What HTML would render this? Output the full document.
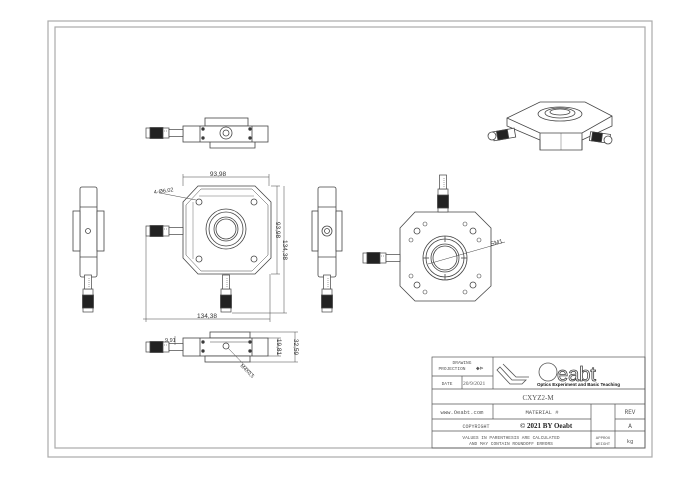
<!DOCTYPE html>
<html><head><meta charset="utf-8"><style>
html,body{margin:0;padding:0;background:#fff;width:700px;height:478px;overflow:hidden}
svg{display:block}
</style></head><body>
<svg width="700" height="478" viewBox="0 0 700 478" xmlns="http://www.w3.org/2000/svg" font-family="Liberation Sans, sans-serif" fill="#333">
<defs>
<g id="knobH">
<rect x="0" y="-5" width="5" height="10" fill="#fff" stroke="#444" stroke-width="0.7"/>
<rect x="4" y="-5.5" width="13" height="11" fill="#222"/>
<rect x="17" y="-5" width="6" height="10" fill="#fff" stroke="#444" stroke-width="0.7"/>
<line x1="18" y1="-2" x2="22" y2="-2" stroke="#444" stroke-width="0.5" stroke-dasharray="1,1"/>
<rect x="23" y="-3.5" width="14" height="7" fill="#fff" stroke="#444" stroke-width="0.7"/>
</g>
<g id="knobV">
<rect x="-5" y="-5" width="10" height="5" fill="#fff" stroke="#444" stroke-width="0.7"/>
<rect x="-5.5" y="-17" width="11" height="13" fill="#222"/>
<rect x="-5" y="-23" width="10" height="6" fill="#fff" stroke="#444" stroke-width="0.7"/>
<rect x="-3.5" y="-37" width="7" height="14" fill="#fff" stroke="#444" stroke-width="0.7"/>
<line x1="1" y1="-34" x2="1" y2="-25" stroke="#444" stroke-width="0.5" stroke-dasharray="1,1"/>
</g>
</defs>
<g fill="none" stroke="#aaa" stroke-width="1.2">
<rect x="48" y="21" width="604" height="436"/>
<rect x="55" y="27" width="590" height="421"/>
</g>

<g stroke="#444" stroke-width="0.8" fill="none">
<rect x="205" y="118" width="43" height="8" fill="#fff"/>
<rect x="183" y="126" width="85" height="16" fill="#fff"/>
<line x1="200" y1="126" x2="200" y2="142"/><line x1="252" y1="126" x2="252" y2="142"/>
<path d="M210 142 V148 H255 V142"/>
<circle cx="226" cy="133" r="6"/><circle cx="226" cy="133" r="3"/>
<circle cx="203" cy="129" r="1.3" fill="#333"/><circle cx="203" cy="138" r="1.3" fill="#333"/>
<circle cx="250" cy="129" r="1.3" fill="#333"/><circle cx="250" cy="138" r="1.3" fill="#333"/>
<use href="#knobH" x="146" y="133"/>

<path d="M198 186 H255 L271 202 V258 L255 274 H198 L183 258 V202 Z" fill="#fff"/>
<path d="M201 189 H252 L268 205 V255 L252 271 H201 L186 255 V205 Z" stroke-width="0.5"/>
<circle cx="226" cy="229" r="20"/><circle cx="226" cy="229" r="17"/>
<circle cx="226" cy="229" r="12"/><circle cx="226" cy="229" r="10"/>
<circle cx="199" cy="202" r="3"/><circle cx="254" cy="202" r="3"/>
<circle cx="199" cy="259" r="3"/><circle cx="254" cy="259" r="3"/>
<line x1="199" y1="196" x2="254" y2="196" stroke-width="0.4"/>
<line x1="193" y1="202" x2="193" y2="259" stroke-width="0.4"/>
<use href="#knobH" x="146" y="231"/>
<use href="#knobV" x="226" y="312"/>
<g stroke-width="0.5">
<line x1="183" y1="177" x2="269" y2="177"/><line x1="183" y1="174" x2="183" y2="186"/><line x1="269" y1="174" x2="269" y2="186"/>
<line x1="277" y1="186" x2="277" y2="274"/><line x1="271" y1="186" x2="280" y2="186"/><line x1="271" y1="274" x2="280" y2="274"/>
<line x1="284" y1="186" x2="284" y2="313"/><line x1="232" y1="313" x2="287" y2="313"/>
<line x1="143" y1="319" x2="270" y2="319"/><line x1="146" y1="236" x2="146" y2="322"/><line x1="270" y1="274" x2="270" y2="322"/>
<line x1="160" y1="193" x2="196" y2="200"/>
</g>

<rect x="80" y="187" width="17" height="90" rx="2" fill="#fff"/>
<line x1="80" y1="207" x2="97" y2="207"/><line x1="80" y1="257" x2="97" y2="257"/>
<rect x="73" y="211" width="7" height="40" fill="#fff"/>
<rect x="97" y="211" width="7" height="40" fill="#fff"/>
<circle cx="88" cy="231" r="2.5"/>
<use href="#knobV" x="88" y="312"/>

<rect x="318" y="187" width="18" height="90" rx="2" fill="#fff"/>
<line x1="318" y1="207" x2="336" y2="207"/><line x1="318" y1="257" x2="336" y2="257"/>
<rect x="336" y="211" width="6" height="40" fill="#fff"/>
<rect x="312" y="211" width="6" height="40" fill="#fff"/>
<circle cx="327" cy="231" r="5"/><circle cx="327" cy="231" r="2.5"/>
<use href="#knobV" x="327" y="312"/>

<rect x="210" y="332" width="40" height="6" fill="#fff"/>
<rect x="183" y="338" width="85" height="18" fill="#fff"/>
<line x1="200" y1="338" x2="200" y2="356"/><line x1="252" y1="338" x2="252" y2="356"/>
<line x1="210" y1="342" x2="250" y2="342" stroke-width="0.5"/>
<rect x="205" y="356" width="45" height="6" fill="#fff"/>
<circle cx="226" cy="346" r="3"/>
<circle cx="203" cy="342" r="1.3" fill="#333"/><circle cx="203" cy="351" r="1.3" fill="#333"/>
<circle cx="250" cy="342" r="1.3" fill="#333"/><circle cx="250" cy="351" r="1.3" fill="#333"/>
<use href="#knobH" x="146" y="347"/>
<g stroke-width="0.5">
<line x1="228" y1="348" x2="254" y2="375"/>
<line x1="278" y1="338" x2="278" y2="356"/><line x1="268" y1="338" x2="281" y2="338"/><line x1="268" y1="356" x2="281" y2="356"/>
<line x1="295" y1="332" x2="295" y2="362"/><line x1="250" y1="332" x2="298" y2="332"/><line x1="250" y1="362" x2="298" y2="362"/>
<line x1="175" y1="336" x2="175" y2="345"/>
</g>

<path d="M415 212 H475 L491 228 V286 L475 301 H415 L400 286 V228 Z" fill="#fff"/>
<circle cx="445" cy="258" r="22"/><circle cx="445" cy="258" r="19"/>
<circle cx="445" cy="258" r="14"/><circle cx="445" cy="258" r="12"/>
<line x1="423" y1="258" x2="429" y2="258"/><line x1="461" y1="258" x2="467" y2="258"/>
<line x1="445" y1="236" x2="445" y2="242"/><line x1="445" y1="274" x2="445" y2="280"/>
<circle cx="417" cy="231" r="3"/><circle cx="473" cy="231" r="3"/><circle cx="417" cy="285" r="3"/><circle cx="473" cy="285" r="3"/>
<g stroke-width="0.6">
<circle cx="411" cy="240" r="2"/><circle cx="425" cy="224" r="2"/><circle cx="465" cy="224" r="2"/><circle cx="479" cy="240" r="2"/>
<circle cx="411" cy="276" r="2"/><circle cx="425" cy="292" r="2"/><circle cx="465" cy="292" r="2"/><circle cx="479" cy="276" r="2"/>
</g>
<line x1="428" y1="264" x2="505" y2="242" stroke-width="0.5"/>
<g transform="translate(443,212)"><use href="#knobV"/></g>
<use href="#knobH" x="363" y="258"/>

<path d="M507 118 L540 102 H585 L612 116 V126 L582 140 V150 H540 V140 L507 126 Z" fill="#fff"/>
<path d="M507 118 L540 133 H582 L612 116"/>
<line x1="540" y1="133" x2="540" y2="150"/><line x1="582" y1="133" x2="582" y2="150"/>
<line x1="561" y1="133" x2="561" y2="150" stroke-width="0.4"/>
<ellipse cx="560" cy="114" rx="22" ry="7" fill="#fff"/>
<ellipse cx="560" cy="113" rx="15" ry="5" fill="#fff"/>
<ellipse cx="560" cy="112" rx="10" ry="3"/>
<rect x="493" y="130" width="22" height="9" fill="#fff" transform="rotate(-10 504 134)"/>
<rect x="497" y="130" width="11" height="9" fill="#222" transform="rotate(-10 504 134)"/>
<circle cx="492" cy="136" r="4" fill="#fff"/>
<rect x="590" y="133" width="20" height="9" fill="#fff" transform="rotate(8 600 137)"/>
<rect x="592" y="133" width="10" height="9" fill="#222" transform="rotate(8 600 137)"/>
<circle cx="608" cy="140" r="4" fill="#fff"/>
</g>

<g font-size="6.5" fill="#333">
<text x="218" y="176" text-anchor="middle">93,98</text>
<text x="154" y="194" font-size="5.5" transform="rotate(-8 154 194)">4-Ø6,02</text>
<text x="276" y="230" transform="rotate(90 276 230)" text-anchor="middle">93,98</text>
<text x="283" y="250" transform="rotate(90 283 250)" text-anchor="middle">134,38</text>
<text x="207" y="318" text-anchor="middle">134,38</text>
<text x="165" y="342" font-size="5.5">9,91</text>
<text x="277" y="347" transform="rotate(90 277 347)" text-anchor="middle">19,81</text>
<text x="294" y="347" transform="rotate(90 294 347)" text-anchor="middle">32,59</text>
<text x="240" y="366" font-size="5" transform="rotate(45 240 366)">M4X0,5</text>
<text x="491" y="246" font-size="6" transform="rotate(-15 491 246)">SM1</text>
</g>

<g stroke="#555" stroke-width="0.7" fill="none">
<rect x="432" y="357" width="213" height="91"/>
<line x1="432" y1="376" x2="493" y2="376"/>
<line x1="432" y1="389" x2="645" y2="389"/>
<line x1="432" y1="404" x2="645" y2="404"/>
<line x1="432" y1="419" x2="591" y2="419"/><line x1="615" y1="419" x2="645" y2="419"/>
<line x1="432" y1="431" x2="645" y2="431"/>
<line x1="493" y1="357" x2="493" y2="389"/>
<line x1="462" y1="376" x2="462" y2="389"/>
<line x1="493" y1="404" x2="493" y2="419"/>
<line x1="591" y1="404" x2="591" y2="448"/>
<line x1="615" y1="404" x2="615" y2="448"/>
</g>
<g stroke="#555" stroke-width="0.8" fill="none">
<path d="M500 367 L512 380 H526 L522 384 H510 L497 370 Z"/>
<path d="M503 364 L516 377 H529"/>
<circle cx="548" cy="372" r="9"/>
</g>
<text x="557" y="381" font-size="20" fill="#fff" stroke="#444" stroke-width="0.8">eabt</text>
<text x="537" y="386" font-size="4.5" font-weight="bold" fill="#111">Optics Experiment and Basic Teaching</text>
<g font-family="Liberation Mono, monospace" font-size="4.5" fill="#555">
<text x="462" y="364" text-anchor="middle">DRAWING</text>
<text x="452" y="370" text-anchor="middle">PROJECTION</text>
<text x="476" y="370" font-size="6">◆⊳</text>
<text x="447" y="385" text-anchor="middle">DATE</text>
<text x="463" y="385" font-family="Liberation Serif, serif" font-size="5.5">20/9/2021</text>
<text x="538" y="400" text-anchor="middle" font-family="Liberation Serif, serif" font-size="7">CXYZ2-M</text>
<text x="462" y="414" text-anchor="middle" font-size="5.5">www.Oeabt.com</text>
<text x="542" y="414" text-anchor="middle" font-size="5.5">MATERIAL #</text>
<text x="630" y="414" text-anchor="middle" font-size="6">REV</text>
<text x="630" y="428" text-anchor="middle" font-size="6">A</text>
<text x="476" y="428" text-anchor="middle" font-size="5">COPYRIGHT</text>
<text x="520" y="428" font-family="Liberation Serif, serif" font-size="7" font-weight="bold" fill="#222">© 2021 BY Oeabt</text>
<text x="511" y="439" text-anchor="middle">VALUES IN PARENTHESIS ARE CALCULATED</text>
<text x="511" y="445" text-anchor="middle">AND MAY CONTAIN ROUNDOFF ERRORS</text>
<text x="603" y="439" text-anchor="middle" font-size="4">APPROX</text>
<text x="603" y="445" text-anchor="middle" font-size="4">WEIGHT</text>
<text x="630" y="443" text-anchor="middle" font-size="5.5">kg</text>
</g>
</svg>
</body></html>
